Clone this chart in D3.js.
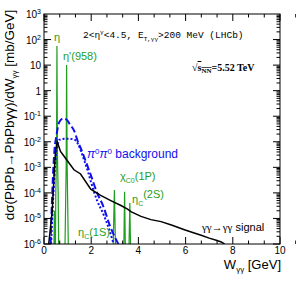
<!DOCTYPE html>
<html>
<head>
<meta charset="utf-8">
<script src="https://cdn.jsdelivr.net/npm/d3@7"></script>
<style>
body { margin: 0; background: #fff; }
svg { font-family: "Liberation Sans", Arial, sans-serif; }
</style>
</head>
<body>
<svg id="chart" width="296" height="286"></svg>
<script>
// gamma gamma -> gamma gamma signal (black)
var signalW = [0.20, 0.35, 0.45, 0.50, 0.56, 0.70, 0.99, 1.27, 1.55, 1.98, 2.40, 2.83, 3.26, 3.54, 3.70, 4.11, 4.53, 4.96, 5.40, 5.95, 6.30, 6.66, 7.00, 7.30, 7.51, 7.65];
var signalY = [1e-6, 2e-5, 1.2e-3, 5e-3, 1.0e-2, 4.2e-3, 1.8e-3, 8e-4, 5.5e-4, 1.4e-4, 8e-5, 5e-5, 3.2e-5, 2.3e-5, 1.8e-5, 1.2e-5, 9e-6, 7.5e-6, 5.5e-6, 3.6e-6, 2.8e-6, 2.2e-6, 1.7e-6, 1.4e-6, 1.2e-6, 1e-6];

// pi0 pi0 background, dashed
var bkgDashW = [0.28, 0.35, 0.45, 0.52, 0.65, 0.80, 0.95, 1.10, 1.27, 1.44, 1.58, 1.72, 2.00, 2.25, 2.50, 2.80, 3.15];
var bkgDashY = [1e-6, 1e-4, 5.6e-3, 0.016, 0.06, 0.08, 0.075, 0.047, 0.028, 0.010, 5e-3, 2.3e-3, 4.5e-4, 1.0e-4, 3.2e-5, 5e-6, 1e-6];

// pi0 pi0 background, dotted
var bkgDotW = [0.30, 0.40, 0.50, 0.58, 0.66, 0.87, 1.10, 1.30, 1.45, 1.58, 1.72, 1.86, 2.00, 2.25, 2.50, 2.75, 2.95];
var bkgDotY = [1e-6, 1e-4, 3e-3, 8e-3, 0.012, 0.013, 0.013, 0.012, 8e-3, 4e-3, 1.7e-3, 7e-4, 2.5e-4, 5e-5, 1.6e-5, 4e-6, 1e-6];

// resonances (green)
var resW = [0.30, 0.40, 0.44, 0.47, 0.50, 0.53, 0.548, 0.57, 0.60, 0.64, 0.70, 0.76, 0.80, 0.86, 0.94, 0.958, 0.98, 1.06, 1.12, 1.20,
            2.80, 2.88, 2.94, 2.983, 3.02, 3.08, 3.20, 3.33, 3.39, 3.415, 3.44, 3.50, 3.57, 3.61, 3.637, 3.66, 3.72, 3.90];
var resY = [1e-8, 1e-8, 2e-5, 1e-8, 1e-4, 3e-3, 56, 3e-3, 1e-4, 1e-8, 1e-8, 1e-8, 1e-8, 1e-8, 1.2e-3, 10, 1.2e-3, 1e-8, 1e-8, 1e-8,
            1e-8, 1e-8, 2e-6, 1.3e-4, 2e-6, 1e-8, 1e-8, 1e-8, 2e-6, 1.1e-4, 2e-6, 1e-8, 1e-8, 2e-6, 4e-5, 2e-6, 1e-8, 1e-8];

var yTicks = [1e-6, 1e-5, 1e-4, 1e-3, 1e-2, 1e-1, 1, 10, 1e2, 1e3];
var xTicks = [0, 2, 4, 6, 8, 10];

var svg = d3.select("#chart");
var pL = 44, pR = 280, pT = 14, pB = 244;
var green = "#1f9e1f", blue = "#1010ee";

var x = d3.scaleLinear().domain([0, 10]).range([pL, pR]);
var y = d3.scaleLog().domain([1e-6, 1e3]).range([pB, pT]);

svg.append("defs").append("clipPath").attr("id", "plotclip")
  .append("rect").attr("x", pL).attr("y", pT).attr("width", pR - pL).attr("height", pB - pT);

var line = d3.line().x(function(d) { return x(d[0]); }).y(function(d) { return y(d[1]); });
var zip = function(a, b) { return a.map(function(v, i) { return [v, b[i]]; }); };

var plot = svg.append("g").attr("clip-path", "url(#plotclip)");

plot.append("path").datum(zip(resW, resY)).attr("d", line)
  .attr("fill", "none").attr("stroke", green).attr("stroke-width", 1.2);
plot.append("path").datum(zip(bkgDashW, bkgDashY)).attr("d", line.curve(d3.curveMonotoneX))
  .attr("fill", "none").attr("stroke", blue).attr("stroke-width", 2).attr("stroke-dasharray", "7,3");
plot.append("path").datum(zip(bkgDotW, bkgDotY)).attr("d", line)
  .attr("fill", "none").attr("stroke", blue).attr("stroke-width", 2).attr("stroke-dasharray", "2,2");
line.curve(d3.curveLinear);
plot.append("path").datum(zip(signalW, signalY)).attr("d", line)
  .attr("fill", "none").attr("stroke", "#000").attr("stroke-width", 1.5);

// frame
svg.append("rect").attr("x", pL).attr("y", pT).attr("width", pR - pL).attr("height", pB - pT)
  .attr("fill", "none").attr("stroke", "#000").attr("stroke-width", 1);

// ticks drawn inside the frame, ROOT style
var ax = svg.append("g").attr("stroke", "#000").attr("stroke-width", 1);
d3.range(0, 31).forEach(function(k) {
  var v = k * 2 / 3, len = (k % 3 === 0) ? 7 : 3.5;
  ax.append("line").attr("x1", x(v)).attr("x2", x(v)).attr("y1", pB).attr("y2", pB - len);
  ax.append("line").attr("x1", x(v)).attr("x2", x(v)).attr("y1", pT).attr("y2", pT + len);
});
for (var e = -6; e < 3; e++) {
  for (var m = 1; m < 10; m++) {
    var v = m * Math.pow(10, e);
    var len = (m === 1) ? 7 : 3.5;
    ax.append("line").attr("x1", pL).attr("x2", pL + len).attr("y1", y(v)).attr("y2", y(v));
    ax.append("line").attr("x1", pR).attr("x2", pR - len).attr("y1", y(v)).attr("y2", y(v));
  }
}

svg.selectAll(".xl").data(xTicks).enter().append("text")
  .attr("x", function(d) { return x(d); }).attr("y", pB + 10)
  .attr("text-anchor", "middle").attr("font-size", 10).text(function(d) { return d; });

var yl = svg.selectAll(".yl").data(yTicks).enter().append("text")
  .attr("x", pL - 3).attr("y", function(d) { return y(d) + 4; })
  .attr("text-anchor", "end").attr("font-size", 10);
yl.each(function(d) {
  var t = d3.select(this), ex = Math.round(Math.log10(d));
  if (ex === 0) { t.text("1"); return; }
  if (ex === 1) { t.text("10"); return; }
  t.append("tspan").text("10");
  t.append("tspan").attr("font-size", 7).attr("dy", -4).text(ex);
});

// axis titles
svg.append("text").attr("x", pR + 1).attr("y", 269).attr("text-anchor", "end").attr("font-size", 13)
  .html('W<tspan font-size="8" dy="3">γγ</tspan><tspan dy="-3"> [GeV]</tspan>');
svg.append("text").attr("transform", "translate(14,115) rotate(-90)").attr("text-anchor", "middle").attr("font-size", 13.5)
  .html('dσ(PbPb→PbPbγγ)/dW<tspan font-size="8" dy="3">γγ</tspan><tspan dy="-3"> [mb/GeV]</tspan>');

// annotations
svg.append("text").attr("x", 83).attr("y", 38).style("font-family", "'Liberation Mono', monospace").attr("font-size", 9.5)
  .html('2&lt;η<tspan font-size="6" dy="-4">γ</tspan><tspan dy="4">&lt;4.5, E</tspan><tspan font-size="6" dy="3">T,γγ</tspan><tspan dy="-3">&gt;200 MeV (LHCb)</tspan>');
svg.append("text").attr("x", 192).attr("y", 71).style("font-family", "'Liberation Serif', serif").attr("font-weight", "bold").attr("font-size", 10)
  .html('√<tspan text-decoration="overline">s<tspan font-size="7" dy="2">NN</tspan></tspan><tspan dy="-2">=5.52 TeV</tspan>');

svg.append("text").attr("x", 54).attr("y", 41).attr("fill", green).attr("font-size", 11).text("η");
svg.append("text").attr("x", 63).attr("y", 60).attr("fill", green).attr("font-size", 11).text("η'(958)");
svg.append("text").attr("x", 87).attr("y", 158).attr("fill", blue).attr("font-size", 12)
  .html('<tspan font-style="italic">π</tspan><tspan font-size="8" dy="-4">0</tspan><tspan dy="4" font-style="italic">π</tspan><tspan font-size="8" dy="-4">0</tspan><tspan dy="4"> background</tspan>');
svg.append("text").attr("x", 120).attr("y", 180).attr("fill", green).attr("font-size", 11)
  .html('χ<tspan font-size="7" dy="3">C0</tspan><tspan dy="-3">(1P)</tspan>');
svg.append("text").attr("x", 132).attr("y", 203).attr("fill", green).attr("font-size", 11)
  .html('η<tspan font-size="7" dy="3">C</tspan><tspan font-size="11" dy="-8">(2S)</tspan>');
svg.append("text").attr("x", 78).attr("y", 236).attr("fill", green).attr("font-size", 11)
  .html('η<tspan font-size="7" dy="3">C</tspan><tspan dy="-3">(1S)</tspan>');
svg.append("text").attr("x", 202).attr("y", 231).attr("font-size", 11)
  .html('<tspan style="font-family:\'Liberation Serif\', serif">γγ→γγ</tspan> signal');
</script>
</body>
</html>
